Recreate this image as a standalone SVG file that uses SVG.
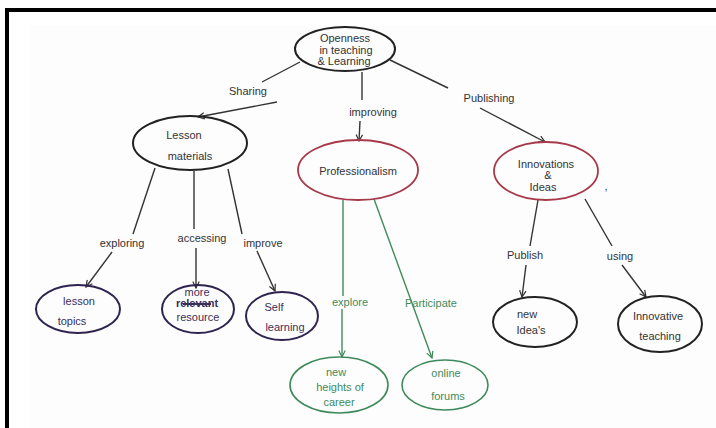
<svg xmlns="http://www.w3.org/2000/svg" width="716" height="428" viewBox="0 0 716 428">
<defs>
<marker id="ahk" viewBox="0 0 10 10" refX="9" refY="5" markerWidth="8" markerHeight="8" orient="auto" markerUnits="userSpaceOnUse">
<polyline points="1,1 9,5 1,9" fill="none" stroke="#333" stroke-width="1.5"/>
</marker>
<marker id="ahg" viewBox="0 0 10 10" refX="9" refY="5" markerWidth="8" markerHeight="8" orient="auto" markerUnits="userSpaceOnUse">
<polyline points="1,1 9,5 1,9" fill="none" stroke="#3f8a5c" stroke-width="1.5"/>
</marker>
</defs>
<style>
.t{font-family:"Liberation Sans",Arial,sans-serif;font-size:11px;fill:#333;text-anchor:middle}
.tp{font-family:"Liberation Sans",Arial,sans-serif;font-size:11px;fill:#3a2f5a;text-anchor:middle}
.tg{font-family:"Liberation Sans",Arial,sans-serif;font-size:11px;fill:#3f8a5c;text-anchor:middle}
.l{font-family:"Liberation Sans",Arial,sans-serif;font-size:11px;fill:#333;text-anchor:middle}
.lg{font-family:"Liberation Sans",Arial,sans-serif;font-size:11px;fill:#3f8a5c;text-anchor:middle}
.ek{fill:none;stroke:#222;stroke-width:2}
.er{fill:none;stroke:#a8394a;stroke-width:1.8}
.ep{fill:none;stroke:#2f2450;stroke-width:2}
.eg{fill:none;stroke:#3f8a5c;stroke-width:1.6}
.ck{fill:none;stroke:#333;stroke-width:1.4}
.cg{fill:none;stroke:#3f8a5c;stroke-width:1.4}
</style>
<rect x="0" y="0" width="716" height="428" fill="#ffffff"/>
<rect x="30" y="25" width="686" height="403" fill="#fdfdfd"/>
<rect x="5" y="8" width="711" height="4" fill="#000"/>
<rect x="5" y="8" width="4" height="420" fill="#000"/>

<g id="connectors">
<line class="ck" x1="300" y1="62" x2="262" y2="82"/>
<line class="ck" x1="277" y1="102" x2="198" y2="117" marker-end="url(#ahk)"/>
<line class="ck" x1="362" y1="72" x2="362" y2="100"/>
<line class="ck" x1="360" y1="121" x2="359" y2="141" marker-end="url(#ahk)"/>
<line class="ck" x1="390" y1="60" x2="448" y2="88"/>
<line class="ck" x1="480" y1="108" x2="545" y2="142" marker-end="url(#ahk)"/>

<line class="ck" x1="155" y1="168" x2="133" y2="234"/>
<line class="ck" x1="112" y1="252" x2="86" y2="287" marker-end="url(#ahk)"/>
<line class="ck" x1="194" y1="171" x2="194" y2="229"/>
<line class="ck" x1="196" y1="248" x2="196" y2="288" marker-end="url(#ahk)"/>
<line class="ck" x1="228" y1="169" x2="242" y2="234"/>
<line class="ck" x1="257" y1="251" x2="275" y2="291" marker-end="url(#ahk)"/>

<line class="cg" x1="343" y1="200" x2="343" y2="296"/>
<line class="cg" x1="342" y1="309" x2="342" y2="357" marker-end="url(#ahg)"/>
<line class="cg" x1="374" y1="199" x2="432" y2="358" marker-end="url(#ahg)"/>

<line class="ck" x1="538" y1="200" x2="530" y2="246"/>
<line class="ck" x1="526" y1="265" x2="522" y2="297" marker-end="url(#ahk)"/>
<line class="ck" x1="585" y1="199" x2="612" y2="246"/>
<line class="ck" x1="622" y1="265" x2="646" y2="297" marker-end="url(#ahk)"/>
</g>

<g id="edge-labels">
<text class="l" x="248" y="95">Sharing</text>
<text class="l" x="373" y="116">improving</text>
<text class="l" x="489" y="102">Publishing</text>
<text class="l" x="122" y="247">exploring</text>
<text class="l" x="202" y="242">accessing</text>
<text class="l" x="263" y="247">improve</text>
<text class="lg" x="350" y="306">explore</text>
<text class="lg" x="431" y="307">Participate</text>
<text class="l" x="525" y="259">Publish</text>
<text class="l" x="620" y="260">using</text>
</g>

<g id="root">
<ellipse class="ek" cx="345" cy="49" rx="50" ry="22" stroke="#2a2030"/>
<text class="t" x="345" y="42" font-size="9">Openness</text>
<text class="t" x="346" y="54" font-size="10">in teaching</text>
<text class="t" x="344" y="65" font-size="9">&amp; Learning</text>
</g>

<g id="lesson-materials">
<ellipse class="ek" cx="190" cy="143" rx="57" ry="27"/>
<text class="t" x="184" y="139" font-size="12">Lesson</text>
<text class="t" x="190" y="160" font-size="12">materials</text>
</g>

<g id="professionalism">
<ellipse class="er" cx="358" cy="170" rx="60" ry="30"/>
<text class="t" x="358" y="175">Professionalism</text>
</g>

<g id="innovations-ideas">
<ellipse class="er" cx="546" cy="171" rx="52" ry="29" stroke="#9a3a48"/>
<text class="t" x="546" y="168" font-size="10">Innovations</text>
<text class="t" x="548" y="179" font-size="7">&amp;</text>
<text class="t" x="543" y="191" font-size="10">Ideas</text>
<text class="t" x="606" y="190" font-size="10">,</text>
</g>

<g id="lesson-topics">
<ellipse class="ep" cx="78" cy="309" rx="42" ry="24"/>
<text class="tp" x="79" y="305">lesson</text>
<text class="tp" x="72" y="325">topics</text>
</g>

<g id="more-resources">
<ellipse class="ep" cx="198" cy="309" rx="36" ry="24"/>
<text class="tp" x="197" y="296" font-size="9">more</text>
<text class="tp" x="197" y="307" font-size="8" font-weight="bold">relevant</text>
<line x1="183" y1="304" x2="211" y2="304" stroke="#3a2f5a" stroke-width="2"/>
<text class="tp" x="198" y="321" font-size="10">resource</text>
</g>

<g id="self-learning">
<ellipse class="ep" cx="282" cy="316" rx="36" ry="24"/>
<text class="tp" x="274" y="311" font-size="12">Self</text>
<text class="tp" x="285" y="331">learning</text>
</g>

<g id="new-heights">
<ellipse class="eg" cx="339" cy="385" rx="49" ry="28"/>
<text class="tg" x="336" y="376">new</text>
<text class="tg" x="340" y="391">heights of</text>
<text class="tg" x="339" y="406">career</text>
</g>

<g id="online-forums">
<ellipse class="eg" cx="445" cy="385" rx="43" ry="25"/>
<text class="tg" x="446" y="377">online</text>
<text class="tg" x="448" y="400">forums</text>
</g>

<g id="new-ideas">
<ellipse class="ek" cx="535" cy="322" rx="42" ry="25"/>
<text class="t" x="527" y="318">new</text>
<text class="t" x="531" y="334">Idea's</text>
</g>

<g id="innovative-teaching">
<ellipse class="ek" cx="660" cy="324" rx="42" ry="28"/>
<text class="t" x="658" y="320" font-size="10">Innovative</text>
<text class="t" x="660" y="340" font-size="10">teaching</text>
</g>
</svg>
